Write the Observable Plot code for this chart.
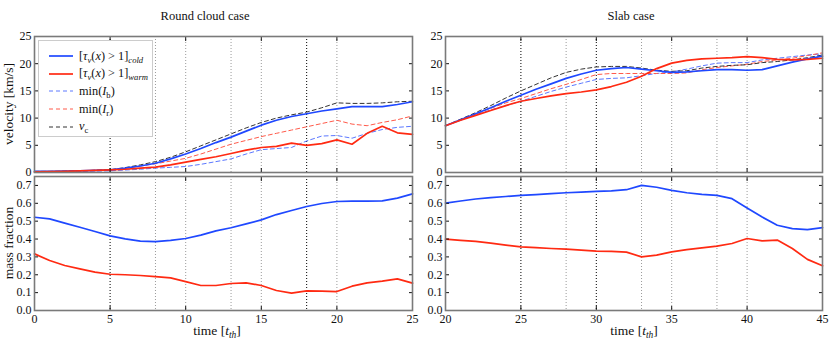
<!DOCTYPE html>
<html><head><meta charset="utf-8">
<script src="https://cdn.jsdelivr.net/npm/d3@7"></script>
<script src="https://cdn.jsdelivr.net/npm/@observablehq/plot@0.6"></script>
<style>
body{margin:0;background:#fff;}
#fig{position:relative;width:830px;height:342px;font-family:"Liberation Serif","DejaVu Serif",serif;color:#111;overflow:hidden;}
#fig svg{position:absolute;}
.t{position:absolute;white-space:nowrap;font-size:12.5px;}
.lab{position:absolute;white-space:nowrap;font-size:13.5px;}
.rot{transform:translate(-50%,-50%) rotate(-90deg);}
.ctr{transform:translate(-50%,-50%);}
sub{font-size:70%;vertical-align:-0.35em;line-height:0;}
#legend{position:absolute;left:38px;top:40px;width:113px;height:95px;border:1px solid #ccc;background:#fff;font-size:12.3px;}
#legend .row{position:absolute;left:0;height:16px;display:flex;align-items:center;}
#legend svg{position:static;}
</style></head><body><div id="fig"></div>
<script>
// ---- data ----
const timeRound = [0,1,2,3,4,5,6,7,8,9,10,11,12,13,14,15,16,17,18,19,20,21,22,23,24,25];
const roundColdVel = [0.2,0.2,0.25,0.3,0.4,0.5,0.8,1.2,1.7,2.5,3.4,4.4,5.5,6.5,7.6,8.7,9.6,10.3,10.8,11.3,11.7,12.1,12.1,12.1,12.5,13.0];
const roundWarmVel = [0.1,0.15,0.2,0.3,0.4,0.5,0.6,0.8,1.0,1.4,1.9,2.4,2.9,3.5,4.1,4.6,4.8,5.4,5.0,5.3,6.0,5.2,7.2,8.5,7.3,7.0];
const roundMinIb = [0.1,0.1,0.15,0.2,0.25,0.3,0.45,0.6,0.8,0.95,1.1,1.5,2.0,2.5,3.4,4.2,4.4,4.6,5.8,6.7,6.8,6.3,7.2,7.9,8.3,8.5];
const roundMinIr = [0.1,0.15,0.2,0.3,0.4,0.5,0.8,1.2,1.6,2.1,2.6,3.4,4.3,5.2,5.9,6.6,7.2,7.8,8.4,9.0,9.6,8.9,8.6,9.2,9.7,10.4];
const roundVc = [0.2,0.2,0.25,0.3,0.4,0.5,0.9,1.4,2.0,2.8,3.8,4.9,6.0,7.1,8.2,9.2,10.0,10.6,11.1,11.9,12.8,12.7,12.7,12.8,13.0,13.1];
const roundColdFrac = [0.522,0.513,0.489,0.466,0.442,0.418,0.401,0.388,0.386,0.392,0.403,0.422,0.446,0.463,0.485,0.507,0.537,0.560,0.582,0.599,0.610,0.612,0.612,0.614,0.629,0.653];
const roundWarmFrac = [0.317,0.280,0.252,0.233,0.215,0.203,0.200,0.196,0.190,0.183,0.162,0.140,0.140,0.151,0.155,0.140,0.112,0.097,0.110,0.108,0.106,0.136,0.155,0.164,0.177,0.153];

const timeSlab = [20,21,22,23,24,25,26,27,28,29,30,31,32,33,34,35,36,37,38,39,40,41,42,43,44,45];
const slabColdVel = [8.6,9.7,10.8,11.9,13.1,14.2,15.3,16.3,17.3,18.1,18.8,19.1,19.3,19.0,18.7,18.4,18.5,18.7,18.9,18.9,18.8,18.9,19.6,20.3,20.9,21.4];
const slabWarmVel = [8.6,9.6,10.5,11.4,12.3,13.1,13.6,14.1,14.5,14.8,15.2,15.8,16.6,17.7,19.1,20.1,20.6,20.9,21.0,21.1,21.3,21.1,20.8,20.7,20.8,21.0];
const slabMinIb = [8.6,9.6,10.6,11.5,12.3,13.1,14.0,14.9,15.7,16.4,17.1,17.3,17.4,17.8,18.2,18.5,19.0,19.6,20.1,20.2,20.2,20.7,21.0,21.3,21.6,21.8];
const slabMinIr = [8.6,9.7,10.8,11.8,12.8,13.6,14.5,15.4,16.2,17.1,18.0,18.2,18.2,18.2,18.2,18.2,18.3,18.9,19.3,19.6,19.9,20.4,20.7,21.0,21.5,22.0];
const slabVc = [8.6,9.8,11.0,12.3,13.7,15.0,16.2,17.4,18.4,19.0,19.4,19.5,19.5,19.2,18.8,18.6,18.7,19.2,19.5,19.7,19.8,20.2,20.4,20.7,21.1,21.6];
const slabColdFrac = [0.601,0.613,0.624,0.632,0.638,0.644,0.649,0.654,0.659,0.663,0.667,0.670,0.676,0.700,0.690,0.672,0.659,0.650,0.644,0.626,0.574,0.523,0.477,0.458,0.453,0.464];
const slabWarmFrac = [0.399,0.393,0.387,0.377,0.366,0.356,0.352,0.347,0.343,0.338,0.332,0.331,0.327,0.300,0.310,0.328,0.341,0.351,0.360,0.375,0.403,0.390,0.394,0.347,0.286,0.250];

const roundMarksBlack = [5, 18];
const roundMarksGray = [8, 10, 13, 15, 20];
const slabMarksBlack = [25, 30];
const slabMarksGray = [28, 33, 35, 38, 40];

const roundTicks = [0, 5, 10, 15, 20, 25];
const slabTicks = [20, 25, 30, 35, 40, 45];
const velTicks = [0, 5, 10, 15, 20, 25];
const fracTicks = [0, 0.1, 0.2, 0.3, 0.4, 0.5, 0.6, 0.7];

// ---- styles ----
const BLUE = "#1f48ff", RED = "#ff2a12";
const styles = {
  cold: {stroke: BLUE, strokeWidth: 1.7},
  warm: {stroke: RED, strokeWidth: 1.7},
  minIb: {stroke: "#5c78ff", strokeWidth: 1, strokeDasharray: "4,3"},
  minIr: {stroke: "#ff5a4a", strokeWidth: 1, strokeDasharray: "4,3"},
  vc: {stroke: "#333", strokeWidth: 1, strokeDasharray: "4,3"}
};

function rowsOf(time, obj) {
  const out = [];
  for (const [key, arr] of Object.entries(obj)) arr.forEach((v, i) => out.push({t: time[i], v, key}));
  return out;
}

function panel({time, series, xDomain, xTicks, yDomain, yTicks, yFmt, showX, black, gray, w, h, m}) {
  const rows = rowsOf(time, series);
  const order = ["minIb", "minIr", "vc", "cold", "warm"].filter(k => k in series);
  const marks = [
    Plot.ruleX(gray, {stroke: "#9a9a9a", strokeWidth: 1, strokeDasharray: "1,2"}),
    Plot.ruleX(black, {stroke: "#000", strokeWidth: 1, strokeDasharray: "1,2"}),
    ...order.map(k => Plot.line(rows.filter(d => d.key === k), {x: "t", y: "v", ...styles[k]})),
    Plot.axisY(yTicks, {anchor: "left", tickSize: -4, tickPadding: 7, tickFormat: yFmt, label: null, fontSize: 12}),
    Plot.axisY(yTicks, {anchor: "right", tickSize: -4, tickFormat: () => "", label: null}),
    Plot.axisX(xTicks, {anchor: "bottom", tickSize: -4, tickPadding: 8, tickFormat: showX ? (d => d) : (() => ""), label: null, fontSize: 12}),
    Plot.axisX(xTicks, {anchor: "top", tickSize: -4, tickFormat: () => "", label: null}),
    Plot.frame({stroke: "#7a7a7a", strokeWidth: 1.6})
  ];
  return Plot.plot({
    width: w, height: h,
    marginLeft: m[0], marginRight: m[1], marginTop: m[2], marginBottom: m[3],
    x: {domain: xDomain},
    y: {domain: yDomain},
    style: {fontFamily: "Liberation Serif, DejaVu Serif, serif", fontSize: "12px", color: "#111", background: "transparent", overflow: "visible"},
    marks
  });
}

const fig = document.getElementById("fig");
function place(svg, left, top) { svg.style.left = left + "px"; svg.style.top = top + "px"; fig.appendChild(svg); }

place(panel({time: timeRound, series: {minIb: roundMinIb, minIr: roundMinIr, vc: roundVc, cold: roundColdVel, warm: roundWarmVel},
  xDomain: [0, 25], xTicks: roundTicks, yDomain: [0, 25], yTicks: velTicks, yFmt: d => d, showX: false,
  black: roundMarksBlack, gray: roundMarksGray, w: 420, h: 180, m: [34, 8, 36, 8]}), 0, 0);
place(panel({time: timeRound, series: {cold: roundColdFrac, warm: roundWarmFrac},
  xDomain: [0, 25], xTicks: roundTicks, yDomain: [0, 0.75], yTicks: fracTicks, yFmt: d3.format(".1f"), showX: true,
  black: roundMarksBlack, gray: roundMarksGray, w: 420, h: 170, m: [34, 8, 4, 32]}), 0, 172);
place(panel({time: timeSlab, series: {minIb: slabMinIb, minIr: slabMinIr, vc: slabVc, cold: slabColdVel, warm: slabWarmVel},
  xDomain: [20, 45], xTicks: slabTicks, yDomain: [0, 25], yTicks: velTicks, yFmt: d => d, showX: false,
  black: slabMarksBlack, gray: slabMarksGray, w: 415, h: 180, m: [30, 8, 36, 8]}), 415, 0);
place(panel({time: timeSlab, series: {cold: slabColdFrac, warm: slabWarmFrac},
  xDomain: [20, 45], xTicks: slabTicks, yDomain: [0, 0.75], yTicks: fracTicks, yFmt: d3.format(".1f"), showX: true,
  black: slabMarksBlack, gray: slabMarksGray, w: 415, h: 170, m: [30, 8, 4, 32]}), 415, 172);

function addText(html, cls, x, y) {
  const d = document.createElement("div");
  d.className = cls; d.innerHTML = html; d.style.left = x + "px"; d.style.top = y + "px";
  fig.appendChild(d);
}
addText("Round cloud case", "t ctr", 205, 16);
addText("Slab case", "t ctr", 631, 16);
addText("velocity [km/s]", "lab rot", 9, 104);
addText("mass fraction", "lab rot", 9, 243);
addText("time [<i>t</i><sub><i>th</i></sub>]", "lab ctr", 217, 331);
addText("time [<i>t</i><sub><i>th</i></sub>]", "lab ctr", 634, 331);

// legend
const legendItems = [
  {key: "cold", html: "[<i>τ<sub>v</sub></i>(<i>x</i>) &gt; 1]<sub><i>cold</i></sub>"},
  {key: "warm", html: "[<i>τ<sub>v</sub></i>(<i>x</i>) &gt; 1]<sub><i>warm</i></sub>"},
  {key: "minIb", html: "min(<i>I</i><sub>b</sub>)"},
  {key: "minIr", html: "min(<i>I</i><sub>r</sub>)"},
  {key: "vc", html: "<i>v</i><sub>c</sub>"}
];
const leg = document.createElement("div"); leg.id = "legend"; fig.appendChild(leg);
legendItems.forEach((it, i) => {
  const s = styles[it.key];
  const row = document.createElement("div"); row.className = "row";
  row.style.top = (7 + i * 17.7) + "px";
  row.innerHTML = `<svg width="36" height="10" style="margin-left:8px"><line x1="2" x2="26" y1="5" y2="5" stroke="${s.stroke}" stroke-width="${s.strokeWidth}" ${s.strokeDasharray ? `stroke-dasharray="${s.strokeDasharray}"` : ""}/></svg><span style="margin-left:-4px">${it.html}</span>`;
  leg.appendChild(row);
});
</script></body></html>
